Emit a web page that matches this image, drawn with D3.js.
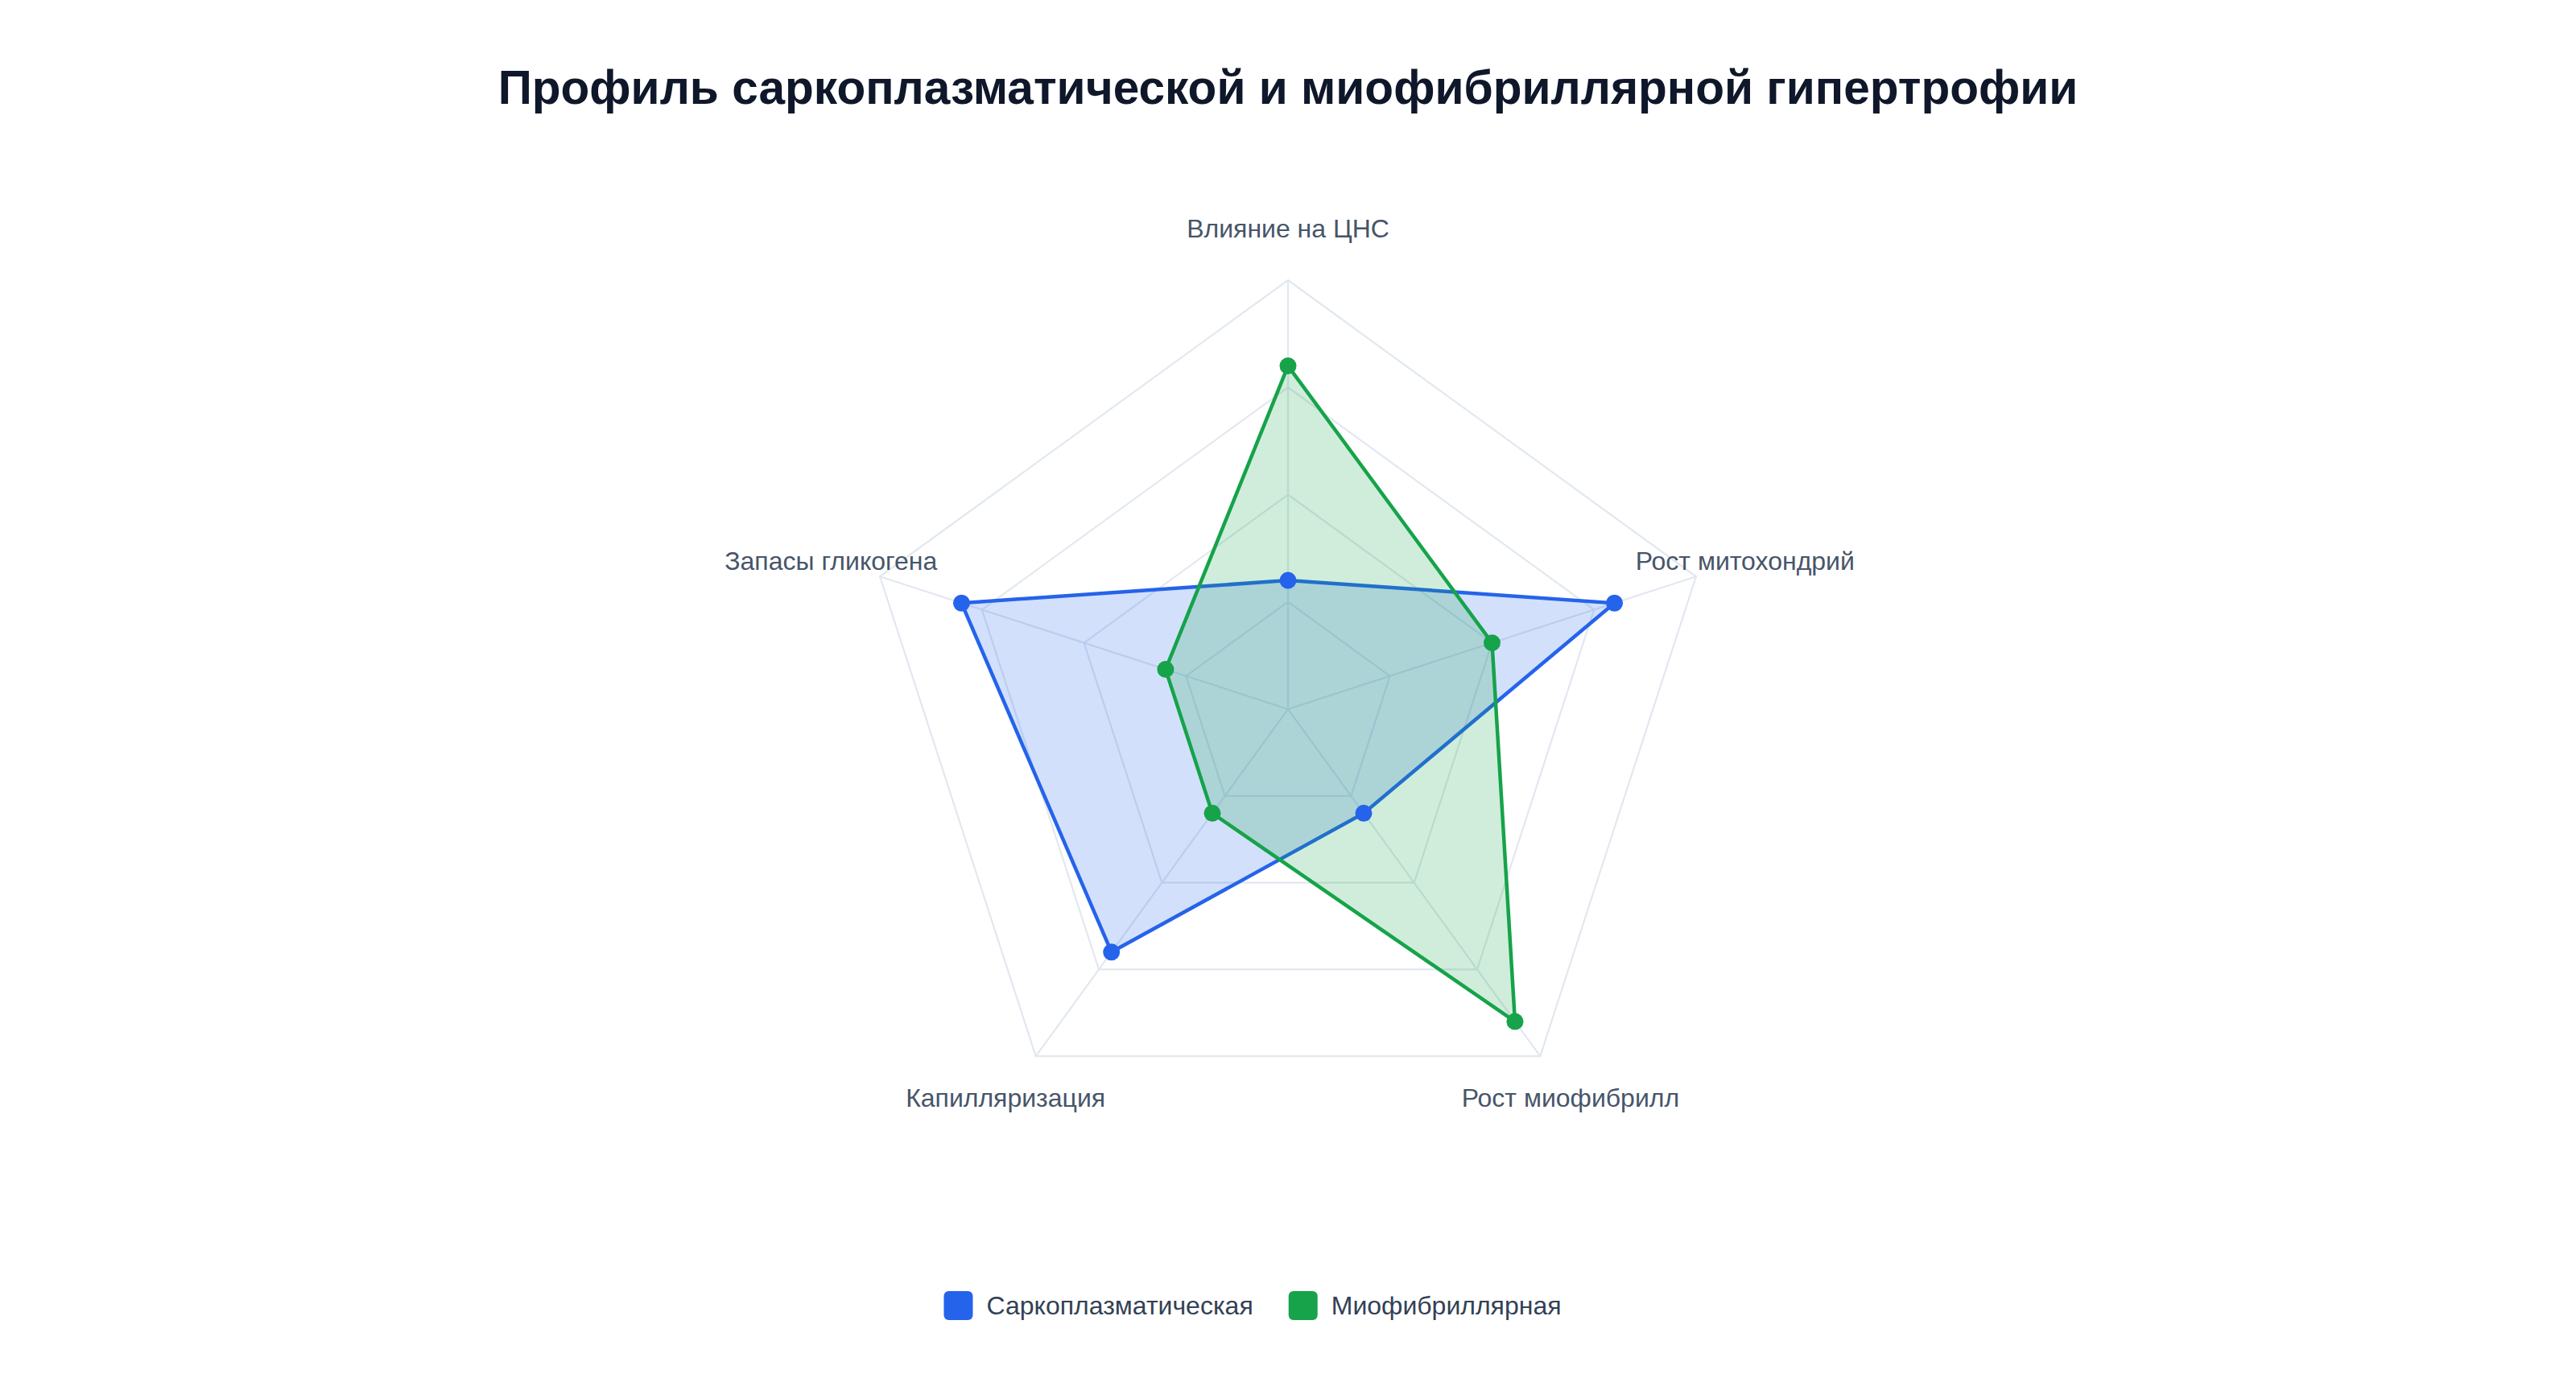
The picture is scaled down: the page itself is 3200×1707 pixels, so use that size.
<!DOCTYPE html>
<html>
<head>
<meta charset="utf-8">
<script src="https://cdn.jsdelivr.net/npm/d3@7"></script>
<style>
  body { margin: 0; background: #fff; }
  svg { display: block; }
</style>
</head>
<body>
<script>
// chart data
var axes = ['Влияние на ЦНС', 'Рост митохондрий', 'Рост миофибрилл', 'Капилляризация', 'Запасы гликогена'];
var sarcoValues = [3, 8, 3, 7, 8];
var myoValues = [8, 5, 9, 3, 3];
var seriesNames = ['Саркоплазматическая', 'Миофибриллярная'];
var seriesColors = ['#2563eb', '#16a34a'];
var gridLevels = [2.5, 5, 7.5, 10];
var title = 'Профиль саркоплазматической и миофибриллярной гипертрофии';

var width = 3200, height = 1707;
var cx = 1600, cy = 881, R = 533;
var font = '"Liberation Sans", Arial, Helvetica, sans-serif';

var svg = d3.select('body').append('svg')
    .attr('width', width)
    .attr('height', height);

// title
svg.append('text')
    .attr('x', cx)
    .attr('y', 108)
    .attr('text-anchor', 'middle')
    .attr('dominant-baseline', 'central')
    .style('font-family', font)
    .style('font-weight', 'bold')
    .style('font-size', '58.6px')
    .style('fill', '#0f172a')
    .text(title);

var r = d3.scaleLinear().domain([0, 10]).range([0, R]);
var angle = d3.scaleLinear().domain([0, axes.length]).range([0, 2 * Math.PI]);

function point(i, v) {
    var a = angle(i) - Math.PI / 2;
    return [r(v) * Math.cos(a), r(v) * Math.sin(a)];
}

var g = svg.append('g').attr('transform', 'translate(' + cx + ',' + cy + ')');

// grid rings
g.selectAll('.ring')
    .data(gridLevels)
    .enter().append('polygon')
    .attr('class', 'ring')
    .attr('points', function(lv) {
        return axes.map(function(d, i) { return point(i, lv).join(','); }).join(' ');
    })
    .style('fill', 'none')
    .style('stroke', '#e2e8f0')
    .style('stroke-width', 2.2);

// spokes
g.selectAll('.spoke')
    .data(axes)
    .enter().append('line')
    .attr('class', 'spoke')
    .attr('x1', 0).attr('y1', 0)
    .attr('x2', function(d, i) { return point(i, 10)[0]; })
    .attr('y2', function(d, i) { return point(i, 10)[1]; })
    .style('stroke', '#e2e8f0')
    .style('stroke-width', 2.2);

// axis labels
g.selectAll('.axis-label')
    .data(axes)
    .enter().append('text')
    .attr('class', 'axis-label')
    .attr('x', function(d, i) { return point(i, 11.2)[0]; })
    .attr('y', function(d, i) { return point(i, 11.2)[1]; })
    .attr('text-anchor', 'middle')
    .attr('dominant-baseline', 'central')
    .style('font-family', font)
    .style('font-size', '32px')
    .style('fill', '#475569')
    .text(function(d) { return d; });

var series = [sarcoValues, myoValues];

var line = d3.lineRadial()
    .angle(function(d, i) { return angle(i); })
    .radius(function(d) { return r(d); })
    .curve(d3.curveLinearClosed);

series.forEach(function(vals, s) {
    var col = seriesColors[s];
    g.append('path')
        .datum(vals)
        .attr('d', line)
        .style('fill', col)
        .style('fill-opacity', 0.2)
        .style('stroke', col)
        .style('stroke-width', 4.5)
        .style('stroke-linejoin', 'miter');
});

series.forEach(function(vals, s) {
    g.selectAll('.pt' + s)
        .data(vals)
        .enter().append('circle')
        .attr('class', 'pt' + s)
        .attr('cx', function(d, i) { return point(i, d)[0]; })
        .attr('cy', function(d, i) { return point(i, d)[1]; })
        .attr('r', 10.5)
        .style('fill', seriesColors[s]);
});

// legend
var legend = svg.append('g');
var items = legend.selectAll('.item')
    .data(seriesNames)
    .enter().append('g')
    .attr('class', 'item');

items.append('rect')
    .attr('width', 36).attr('height', 36)
    .attr('rx', 6)
    .attr('y', -18)
    .style('fill', function(d, i) { return seriesColors[i]; });

items.append('text')
    .attr('x', 53)
    .attr('dominant-baseline', 'central')
    .style('font-family', font)
    .style('font-size', '32px')
    .style('fill', '#334155')
    .text(function(d) { return d; });

var xpos = 0;
items.each(function() {
    var w = this.getBBox().width;
    d3.select(this).attr('transform', 'translate(' + xpos + ',0)');
    xpos += w + 44;
});
var total = xpos - 44;
legend.attr('transform', 'translate(' + (1556 - total / 2) + ',1622)');
</script>
</body>
</html>
